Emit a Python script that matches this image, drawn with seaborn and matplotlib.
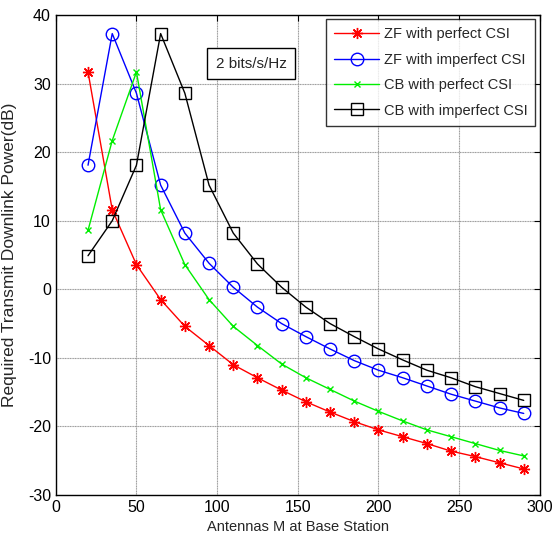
import numpy as np
import pandas as pd
import seaborn as sns
import matplotlib
matplotlib.use("Agg")
import matplotlib.pyplot as plt

antennas = [20, 35, 50, 65, 80, 95, 110, 125, 140, 155, 170, 185, 200, 215, 230, 245, 260, 275, 290]

zf_perfect = [31.7, 11.6, 3.6, -1.5, -5.4, -8.2, -11.0, -12.9, -14.7, -16.4, -17.9, -19.3, -20.5,
              -21.5, -22.5, -23.6, -24.4, -25.3, -26.2]
zf_imperfect = [18.1, 37.3, 28.6, 15.2, 8.2, 3.8, 0.3, -2.6, -5.0, -6.9, -8.7, -10.4, -11.8,
                -12.9, -14.1, -15.3, -16.3, -17.3, -18.1]
cb_perfect = [8.6, 21.7, 31.7, 11.6, 3.6, -1.5, -5.4, -8.2, -10.9, -12.9, -14.6, -16.3, -17.8,
              -19.2, -20.5, -21.5, -22.5, -23.5, -24.3]
cb_imperfect = [4.9, 10.0, 18.1, 37.3, 28.6, 15.2, 8.2, 3.7, 0.3, -2.6, -5.0, -6.9, -8.7,
                -10.3, -11.8, -12.9, -14.2, -15.2, -16.2]

series_names = ["ZF with perfect CSI", "ZF with imperfect CSI", "CB with perfect CSI", "CB with imperfect CSI"]
x_ticks = [0, 50, 100, 150, 200, 250, 300]
y_ticks = [-30, -20, -10, 0, 10, 20, 30, 40]
annotation = "2 bits/s/Hz"

sns.set_style("white")
plt.rcParams["font.family"] = ["Liberation Sans", "DejaVu Sans"]
plt.rcParams["axes.unicode_minus"] = False

fig = plt.figure(figsize=(5.52, 5.46), dpi=100)
ax = fig.add_axes([0.101, 0.0934, 0.877, 0.879])

styles = [
    dict(color="#ff0000", marker=(8, 2, 0), markersize=8),
    dict(color="#0000ff", marker="o", markersize=9),
    dict(color="#00ee00", marker="x", markersize=4.5),
    dict(color="#000000", marker="s", markersize=8.5),
]
data = [zf_perfect, zf_imperfect, cb_perfect, cb_imperfect]

for name, vals, st in zip(series_names, data, styles):
    df = pd.DataFrame({"M": antennas, "P": vals})
    sns.lineplot(data=df, x="M", y="P", ax=ax, label=name,
                 color=st["color"], marker=st["marker"], markersize=st["markersize"],
                 markerfacecolor="none", markeredgecolor=st["color"], markeredgewidth=1.0,
                 linewidth=1.0)

ax.set_xlim(0, 300)
ax.set_ylim(-30, 40)
ax.set_xticks(x_ticks)
ax.set_yticks(y_ticks)
ax.grid(True, color="#9a9a9a", linestyle=(0, (1, 0.5)), linewidth=0.8)
ax.tick_params(direction="in", length=4, top=True, right=True, labelsize=11.5, colors="black",
               labelcolor="black")
for s in ax.spines.values():
    s.set_color("black")
    s.set_linewidth(1.0)
ax.set_xlabel("Antennas M at Base Station", fontsize=10.5, labelpad=4)
ax.set_ylabel("Required Transmit Downlink Power(dB)", fontsize=12.5)
ax.yaxis.set_label_coords(-0.08, 0.5)

leg = ax.legend(loc="upper right", fontsize=10.5, frameon=True, fancybox=False,
                borderaxespad=0.3, handlelength=3.1, handletextpad=0.3,
                labelspacing=0.78, borderpad=0.55)
leg.get_frame().set_edgecolor("black")
leg.get_frame().set_linewidth(1.0)

ax.text(121, 32.9, annotation, fontsize=11, ha="center", va="center",
        bbox=dict(boxstyle="square,pad=0.55", fc="white", ec="black", lw=1.0))

fig.savefig("out.png", dpi=100)
